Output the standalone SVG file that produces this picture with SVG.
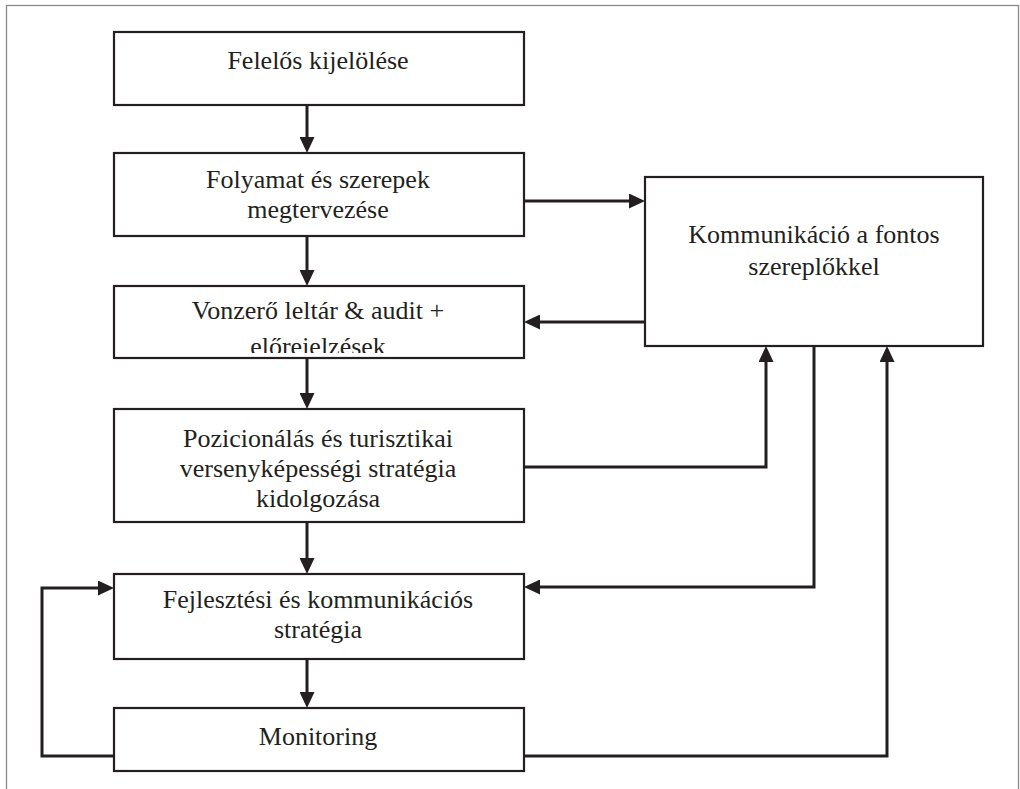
<svg xmlns="http://www.w3.org/2000/svg" width="1020" height="789" viewBox="0 0 1020 789">
  <style>
    .box { fill: #ffffff; stroke: #231f20; stroke-width: 2.2; }
    .lbl { font-family: "Liberation Serif", "Times New Roman", serif; font-size: 26px; fill: #231f20; text-anchor: middle; }
    .conn { fill: none; stroke: #231f20; stroke-width: 3; stroke-linejoin: miter; marker-end: url(#arrow); }
    .plain { fill: none; stroke: #231f20; stroke-width: 3; }
  </style>
  <defs>
    <marker id="arrow" markerUnits="userSpaceOnUse" markerWidth="16" markerHeight="15" refX="0" refY="7.5" orient="auto">
      <path d="M0,0 L16,7.5 L0,15 Z" fill="#231f20"/>
    </marker>
    <clipPath id="clip-audit">
      <rect x="114" y="286" width="410" height="67"/>
    </clipPath>
  </defs>

  <rect width="1020" height="789" fill="#ffffff"/>
  <!-- page frame -->
  <rect x="6.5" y="5.5" width="1012" height="820" fill="none" stroke="#8a8a8a" stroke-width="1.3"/>

  <g id="connectors">
    <path class="conn" d="M307,105 V137"/>
    <path class="conn" d="M307,236 V270"/>
    <path class="conn" d="M307,358 V393"/>
    <path class="conn" d="M307,522 V558"/>
    <path class="conn" d="M307,659 V692"/>
    <path class="conn" d="M524,201 H629"/>
    <path class="conn" d="M645,322 H540"/>
    <path class="conn" d="M524,467 H766 V362"/>
    <path class="conn" d="M814,346 V587 H540"/>
    <path class="conn" d="M524,756 H887 V362"/>
    <path class="conn" d="M114,756 H42 V588 H98"/>
  </g>

  <g id="node-felelos">
    <rect class="box" x="114" y="32" width="410" height="73"/>
    <text class="lbl" x="318" y="69">Felelős kijelölése</text>
  </g>

  <g id="node-folyamat">
    <rect class="box" x="114" y="153" width="410" height="83"/>
    <text class="lbl" x="318" y="188">Folyamat és szerepek</text>
    <text class="lbl" x="318" y="218">megtervezése</text>
  </g>

  <g id="node-vonzero">
    <rect class="box" x="114" y="286" width="410" height="72"/>
    <g clip-path="url(#clip-audit)">
      <text class="lbl" x="318" y="319">Vonzerő leltár &amp; audit +</text>
      <text class="lbl" x="318" y="355">előrejelzések</text>
    </g>
  </g>

  <g id="node-pozicionalas">
    <rect class="box" x="114" y="409" width="410" height="113"/>
    <text class="lbl" x="318" y="447">Pozicionálás és turisztikai</text>
    <text class="lbl" x="318" y="477">versenyképességi stratégia</text>
    <text class="lbl" x="318" y="507">kidolgozása</text>
  </g>

  <g id="node-fejlesztesi">
    <rect class="box" x="114" y="574" width="410" height="85"/>
    <text class="lbl" x="318" y="608">Fejlesztési és kommunikációs</text>
    <text class="lbl" x="318" y="638">stratégia</text>
  </g>

  <g id="node-monitoring">
    <rect class="box" x="114" y="708" width="410" height="63"/>
    <text class="lbl" x="318" y="745">Monitoring</text>
  </g>

  <g id="node-kommunikacio">
    <rect class="box" x="645" y="177" width="338" height="169"/>
    <text class="lbl" x="814" y="243">Kommunikáció a fontos</text>
    <text class="lbl" x="814" y="275">szereplőkkel</text>
  </g>
</svg>
